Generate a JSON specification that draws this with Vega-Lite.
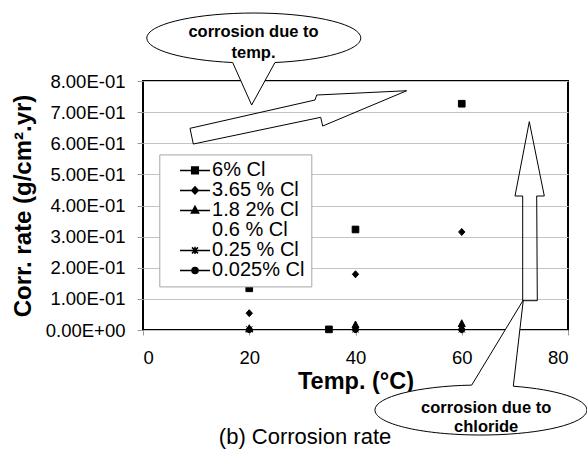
{
  "$schema": "https://vega.github.io/schema/vega-lite/v6.json",
  "width": 425,
  "height": 249,
  "autosize": "none",
  "padding": {"left": 143, "top": 81, "right": 19, "bottom": 120},
  "background": "white",
  "config": {
    "view": {"stroke": "black", "strokeWidth": 2},
    "font": "Liberation Sans",
    "axis": {"labelFont": "Liberation Sans", "titleFont": "Liberation Sans", "labelColor": "black", "titleColor": "black"}
  },
  "datasets": {
    "rates": [
      {"temp": 20, "rate": 0.134, "series": "6% Cl"},
      {"temp": 35, "rate": 0.002, "series": "6% Cl"},
      {"temp": 40, "rate": 0.323, "series": "6% Cl"},
      {"temp": 60, "rate": 0.727, "series": "6% Cl"},
      {"temp": 20, "rate": 0.054, "series": "3.65 % Cl"},
      {"temp": 40, "rate": 0.179, "series": "3.65 % Cl"},
      {"temp": 60, "rate": 0.315, "series": "3.65 % Cl"},
      {"temp": 20, "rate": 0.004, "series": "1.8 2% Cl"},
      {"temp": 40, "rate": 0.016, "series": "1.8 2% Cl"},
      {"temp": 60, "rate": 0.020, "series": "1.8 2% Cl"},
      {"temp": 20, "rate": 0.002, "series": "0.25 % Cl"},
      {"temp": 40, "rate": 0.002, "series": "0.25 % Cl"},
      {"temp": 60, "rate": 0.002, "series": "0.25 % Cl"},
      {"temp": 20, "rate": 0.001, "series": "0.025% Cl"},
      {"temp": 40, "rate": 0.001, "series": "0.025% Cl"},
      {"temp": 60, "rate": 0.001, "series": "0.025% Cl"}
    ]
  },
  "layer": [
    {
      "data": {"name": "rates"},
      "encoding": {
        "x": {
          "field": "temp", "type": "quantitative",
          "scale": {"domain": [0, 80], "nice": false, "zero": false},
          "axis": {
            "values": [0, 20, 40, 60, 80], "grid": false, "domain": false,
            "tickSize": 5, "tickColor": "#9a9a9a", "labelPadding": 13, "labelFontSize": 18.5,
            "title": "Temp. (°C)", "titleFontSize": 23.5, "titleFontWeight": "bold", "titlePadding": 3
          }
        },
        "y": {
          "field": "rate", "type": "quantitative",
          "scale": {"domain": [0, 0.8], "nice": false, "zero": false},
          "axis": {
            "values": [0, 0.1, 0.2, 0.3, 0.4, 0.5, 0.6, 0.7, 0.8],
            "labelExpr": "datum.value == 0 ? '0.00E+00' : format(datum.value * 10, '.2f') + 'E-01'",
            "grid": true, "gridColor": "#c4c4c4", "gridWidth": 1, "domain": false,
            "tickSize": 6, "tickColor": "#9a9a9a", "labelPadding": 12, "labelFontSize": 18.5,
            "title": "Corr. rate (g/cm².yr)", "titleFontSize": 24, "titleFontWeight": "bold", "titlePadding": 10
          }
        }
      },
      "layer": [
        {
          "mark": {"type": "point", "filled": true, "fill": "black", "stroke": "black", "strokeWidth": 1, "opacity": 1, "size": 49},
          "encoding": {
            "shape": {
              "field": "series", "type": "nominal",
              "scale": {
                "domain": ["6% Cl", "3.65 % Cl", "1.8 2% Cl", "0.6 % Cl", "0.25 % Cl", "0.025% Cl"],
                "range": [
                  "M-0.95,-0.95H0.95V0.95H-0.95Z",
                  "M0,-1L0.9,0L0,1L-0.9,0Z",
                  "M0,-1.15L1,0.8H-1Z",
                  "M0,0",
                  "M0,-1V1M-0.9,-0.9L0.9,0.9M-0.9,0.9L0.9,-0.9",
                  "M-0.85,0A0.85,0.85,0,1,0,0.85,0A0.85,0.85,0,1,0,-0.85,0Z"
                ]
              },
              "legend": null
            }
          }
        },
        {
          "mark": {"type": "point", "filled": true, "fill": "black", "stroke": "black", "strokeWidth": 1, "opacity": 0},
          "encoding": {
            "shape": {
              "field": "series", "type": "nominal",
              "scale": {
                "domain": ["6% Cl", "3.65 % Cl", "1.8 2% Cl", "0.6 % Cl", "0.25 % Cl", "0.025% Cl"],
                "range": [
                  "M-3,0H3M-0.66,-0.66H0.66V0.66H-0.66Z",
                  "M-3,0H3M0,-0.72L0.66,0L0,0.72L-0.66,0Z",
                  "M-3,0H3M0,-0.8L0.72,0.5H-0.72Z",
                  "M0,0",
                  "M-3,0H3M0,-0.72V0.72M-0.6,-0.6L0.6,0.6M-0.6,0.6L0.6,-0.6",
                  "M-3,0H3M-0.6,0A0.6,0.6,0,1,0,0.6,0A0.6,0.6,0,1,0,-0.6,0Z"
                ]
              },
              "legend": {
                "title": null, "orient": "none", "legendX": 16.3, "legendY": 73.4,
                "symbolSize": 100, "symbolOpacity": 1, "symbolOffset": 19.7,
                "labelOffset": 7.1, "padding": 6, "fillColor": "white", "strokeColor": "#a6a6a6",
                "labelFont": "Liberation Sans", "labelFontSize": 20, "labelColor": "black", "rowPadding": -3.3,
                "encode": {
                  "symbols": {
                    "update": {
                      "fill": {"value": "black"},
                      "stroke": {"value": "black"},
                      "strokeWidth": {"value": 1},
                      "opacity": {"value": 1}
                    }
                  }
                }
              }
            }
          }
        }
      ],
      "resolve": {"scale": {"shape": "independent"}}
    },
    {
      "data": {"values": [{}]},
      "mark": {"type": "point", "shape": "M-165.5,16.2L-40.5,-12.1L-38.8,-17.1L51.2,-21.4L-32.8,13.9L-34.8,5.2L-162.2,31.9Z", "size": 4, "filled": false, "stroke": "black", "strokeWidth": 1, "opacity": 1},
      "encoding": {
        "x": {"datum": 40, "axis": {"values": [0, 20, 40, 60, 80]}},
        "y": {"datum": 0.7, "axis": {"values": [0, 0.1, 0.2, 0.3, 0.4, 0.5, 0.6, 0.7, 0.8]}}
      }
    },
    {
      "data": {"values": [{}]},
      "mark": {"type": "point", "shape": "M3.8,-83.8L18.8,-9.5L11.2,-9.5L11.8,95.2L-2.8,95.2L-2.8,-9.5L-10.5,-9.5Z", "size": 4, "filled": false, "stroke": "black", "strokeWidth": 1, "opacity": 1},
      "encoding": {
        "x": {"datum": 72, "axis": {"values": [0, 20, 40, 60, 80]}},
        "y": {"datum": 0.4, "axis": {"values": [0, 0.1, 0.2, 0.3, 0.4, 0.5, 0.6, 0.7, 0.8]}}
      }
    },
    {
      "data": {"values": [{}]},
      "mark": {"type": "point", "shape": "M-21.9,25.1L-2.9,67.6L20.4,25.1A107,25,0,1,0,-21.9,25.1Z", "size": 4, "fill": "white", "stroke": "black", "strokeWidth": 1, "opacity": 1},
      "encoding": {
        "x": {"datum": 21, "axis": {"values": [0, 20, 40, 60, 80]}},
        "y": {"datum": 0.94, "axis": {"values": [0, 0.1, 0.2, 0.3, 0.4, 0.5, 0.6, 0.7, 0.8]}}
      }
    },
    {
      "data": {"values": [{}]},
      "mark": {"type": "point", "shape": "M30.3,-21.6L40.3,-107.8L-11.3,-22.7A106,25,0,1,0,30.3,-21.6Z", "size": 4, "fill": "white", "stroke": "black", "strokeWidth": 1, "opacity": 1},
      "encoding": {
        "x": {"datum": 64, "axis": {"values": [0, 20, 40, 60, 80]}},
        "y": {"datum": -0.25, "axis": {"values": [0, 0.1, 0.2, 0.3, 0.4, 0.5, 0.6, 0.7, 0.8]}}
      }
    },
    {
      "data": {"values": [{}]},
      "mark": {"type": "text", "text": ["corrosion due to", "temp."], "font": "Liberation Sans", "fontWeight": "bold", "fontSize": 16.5, "lineHeight": 21.3, "align": "center", "baseline": "middle", "color": "black"},
      "encoding": {
        "x": {"datum": 20.8, "axis": {"values": [0, 20, 40, 60, 80]}},
        "y": {"datum": 0.9584, "axis": {"values": [0, 0.1, 0.2, 0.3, 0.4, 0.5, 0.6, 0.7, 0.8]}}
      }
    },
    {
      "data": {"values": [{}]},
      "mark": {"type": "text", "text": ["corrosion due to", "chloride"], "font": "Liberation Sans", "fontWeight": "bold", "fontSize": 16.5, "lineHeight": 19, "align": "center", "baseline": "middle", "color": "black"},
      "encoding": {
        "x": {"datum": 64.6, "axis": {"values": [0, 20, 40, 60, 80]}},
        "y": {"datum": -0.2506, "axis": {"values": [0, 0.1, 0.2, 0.3, 0.4, 0.5, 0.6, 0.7, 0.8]}}
      }
    },
    {
      "data": {"values": [{}]},
      "mark": {"type": "text", "text": "(b) Corrosion rate", "font": "Liberation Sans", "fontSize": 22, "align": "center", "baseline": "middle", "color": "black"},
      "encoding": {
        "x": {"datum": 30.5, "axis": {"values": [0, 20, 40, 60, 80]}},
        "y": {"datum": -0.344, "axis": {"values": [0, 0.1, 0.2, 0.3, 0.4, 0.5, 0.6, 0.7, 0.8]}}
      }
    }
  ]
}
